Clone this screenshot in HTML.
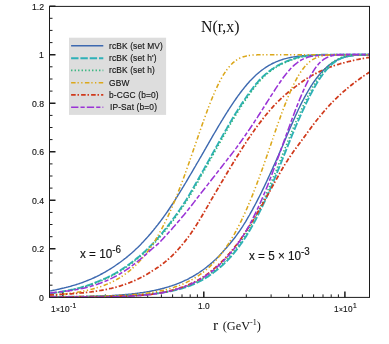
<!DOCTYPE html>
<html><head><meta charset="utf-8"><title>N(r,x)</title>
<style>
html,body{margin:0;padding:0;background:#fff;}
body{width:389px;height:344px;position:relative;overflow:hidden;font-family:"Liberation Sans",sans-serif;color:#111;}
.t{position:absolute;white-space:nowrap;will-change:transform;font-family:"Liberation Sans",sans-serif;-webkit-text-stroke:0.15px #222;}
.s{position:relative;}
</style></head><body>
<svg width="389" height="344" viewBox="0 0 389 344" style="position:absolute;left:0;top:0">
<defs><clipPath id="c"><rect x="49.5" y="6.4" width="320.0" height="291.0"/></clipPath></defs>
<rect x="69" y="37.7" width="97.1" height="77.2" fill="#dddddd"/>
<path d="M49.5,285.2 h3 M49.5,273.0 h3 M49.5,260.9 h3 M49.5,236.7 h3 M49.5,224.5 h3 M49.5,212.4 h3 M49.5,188.1 h3 M49.5,176.0 h3 M49.5,163.9 h3 M49.5,139.6 h3 M49.5,127.5 h3 M49.5,115.4 h3 M49.5,91.1 h3 M49.5,79.0 h3 M49.5,66.8 h3 M49.5,42.6 h3 M49.5,30.4 h3 M49.5,18.3 h3 M56.4,297.4 v-3 M105.3,297.4 v-3 M130.1,297.4 v-3 M147.7,297.4 v-3 M161.4,297.4 v-3 M172.6,297.4 v-3 M182.0,297.4 v-3 M190.2,297.4 v-3 M197.4,297.4 v-3 M246.3,297.4 v-3 M271.1,297.4 v-3 M288.7,297.4 v-3 M302.4,297.4 v-3 M313.6,297.4 v-3 M323.0,297.4 v-3 M331.2,297.4 v-3 M338.4,297.4 v-3" stroke="#1c1c1c" fill="none" stroke-width="1"/>
<path d="M49.5,297.3 h6 M49.5,248.8 h6 M49.5,200.3 h6 M49.5,151.7 h6 M49.5,103.2 h6 M49.5,54.7 h6 M49.5,6.2 h6 M62.8,297.4 v-6 M203.8,297.4 v-6 M344.9,297.4 v-6" stroke="#1c1c1c" fill="none" stroke-width="1.5"/>
<g clip-path="url(#c)" fill="none" stroke-linejoin="round">
<path d="M49.5,291.1 L50.5,290.9 L51.5,290.7 L52.5,290.5 L53.5,290.3 L54.5,290.1 L55.5,289.9 L56.5,289.7 L57.5,289.4 L58.5,289.2 L59.5,289.0 L60.5,288.7 L61.5,288.5 L62.5,288.3 L63.5,288.1 L64.5,287.8 L65.5,287.6 L66.5,287.3 L67.5,287.1 L68.5,286.8 L69.5,286.6 L70.5,286.3 L71.5,286.0 L72.5,285.7 L73.5,285.4 L74.5,285.1 L75.5,284.8 L76.5,284.5 L77.5,284.2 L78.5,283.9 L79.5,283.5 L80.5,283.2 L81.5,282.8 L82.5,282.5 L83.5,282.1 L84.5,281.7 L85.5,281.3 L86.5,280.9 L87.5,280.5 L88.5,280.1 L89.5,279.7 L90.5,279.3 L91.5,278.9 L92.5,278.4 L93.5,278.0 L94.5,277.5 L95.5,277.0 L96.5,276.6 L97.5,276.1 L98.5,275.6 L99.5,275.1 L100.5,274.5 L101.5,274.0 L102.5,273.5 L103.5,272.9 L104.5,272.4 L105.5,271.8 L106.5,271.2 L107.5,270.6 L108.5,270.0 L109.5,269.4 L110.5,268.8 L111.5,268.2 L112.5,267.5 L113.5,266.9 L114.5,266.2 L115.5,265.5 L116.5,264.8 L117.5,264.1 L118.5,263.4 L119.5,262.7 L120.5,262.0 L121.5,261.2 L122.5,260.5 L123.5,259.7 L124.5,258.9 L125.5,258.2 L126.5,257.4 L127.5,256.6 L128.5,255.7 L129.5,254.9 L130.5,254.0 L131.5,253.2 L132.5,252.3 L133.5,251.4 L134.5,250.5 L135.5,249.6 L136.5,248.6 L137.5,247.7 L138.5,246.7 L139.5,245.7 L140.5,244.7 L141.5,243.6 L142.5,242.6 L143.5,241.5 L144.5,240.4 L145.5,239.3 L146.5,238.2 L147.5,237.1 L148.5,236.0 L149.5,234.8 L150.5,233.7 L151.5,232.5 L152.5,231.3 L153.5,230.1 L154.5,228.8 L155.5,227.6 L156.5,226.3 L157.5,225.1 L158.5,223.8 L159.5,222.5 L160.5,221.2 L161.5,219.8 L162.5,218.5 L163.5,217.1 L164.5,215.7 L165.5,214.3 L166.5,212.9 L167.5,211.5 L168.5,210.0 L169.5,208.5 L170.5,207.0 L171.5,205.5 L172.5,204.0 L173.5,202.4 L174.5,200.9 L175.5,199.3 L176.5,197.7 L177.5,196.1 L178.5,194.5 L179.5,192.8 L180.5,191.2 L181.5,189.6 L182.5,187.9 L183.5,186.3 L184.5,184.6 L185.5,183.0 L186.5,181.3 L187.5,179.6 L188.5,177.9 L189.5,176.2 L190.5,174.5 L191.5,172.8 L192.5,171.1 L193.5,169.4 L194.5,167.7 L195.5,166.0 L196.5,164.2 L197.5,162.5 L198.5,160.8 L199.5,159.0 L200.5,157.3 L201.5,155.6 L202.5,153.8 L203.5,152.1 L204.5,150.3 L205.5,148.6 L206.5,146.8 L207.5,145.1 L208.5,143.4 L209.5,141.6 L210.5,139.9 L211.5,138.2 L212.5,136.4 L213.5,134.7 L214.5,133.0 L215.5,131.3 L216.5,129.6 L217.5,127.9 L218.5,126.2 L219.5,124.5 L220.5,122.9 L221.5,121.2 L222.5,119.6 L223.5,117.9 L224.5,116.3 L225.5,114.7 L226.5,113.1 L227.5,111.5 L228.5,110.0 L229.5,108.4 L230.5,106.9 L231.5,105.4 L232.5,103.9 L233.5,102.4 L234.5,100.9 L235.5,99.5 L236.5,98.0 L237.5,96.6 L238.5,95.2 L239.5,93.9 L240.5,92.5 L241.5,91.2 L242.5,89.9 L243.5,88.7 L244.5,87.4 L245.5,86.2 L246.5,85.0 L247.5,83.8 L248.5,82.7 L249.5,81.5 L250.5,80.4 L251.5,79.4 L252.5,78.4 L253.5,77.4 L254.5,76.4 L255.5,75.5 L256.5,74.6 L257.5,73.7 L258.5,72.9 L259.5,72.0 L260.5,71.2 L261.5,70.4 L262.5,69.7 L263.5,69.0 L264.5,68.3 L265.5,67.6 L266.5,66.9 L267.5,66.3 L268.5,65.7 L269.5,65.1 L270.5,64.6 L271.5,64.0 L272.5,63.5 L273.5,63.0 L274.5,62.6 L275.5,62.1 L276.5,61.7 L277.5,61.3 L278.5,60.9 L279.5,60.5 L280.5,60.2 L281.5,59.8 L282.5,59.5 L283.5,59.2 L284.5,58.9 L285.5,58.6 L286.5,58.4 L287.5,58.1 L288.5,57.9 L289.5,57.7 L290.5,57.5 L291.5,57.3 L292.5,57.1 L293.5,56.9 L294.5,56.8 L295.5,56.6 L296.5,56.5 L297.5,56.3 L298.5,56.2 L299.5,56.1 L300.5,56.0 L301.5,55.9 L302.5,55.8 L303.5,55.7 L304.5,55.6 L305.5,55.6 L306.5,55.5 L307.5,55.4 L308.5,55.4 L309.5,55.3 L310.5,55.2 L311.5,55.2 L312.5,55.1 L313.5,55.1 L314.5,55.1 L315.5,55.0 L316.5,55.0 L317.5,55.0 L318.5,54.9 L319.5,54.9 L320.5,54.9 L321.5,54.9 L322.5,54.8 L323.5,54.8 L324.5,54.8 L325.5,54.8 L326.5,54.8 L327.5,54.8 L328.5,54.8 L329.5,54.7 L330.5,54.7 L331.5,54.7 L332.5,54.7 L333.5,54.7 L334.5,54.7 L335.5,54.7 L336.5,54.7 L337.5,54.7 L338.5,54.7 L339.5,54.7 L340.5,54.7 L341.5,54.7 L342.5,54.7 L343.5,54.7 L344.5,54.6 L345.5,54.6 L346.5,54.6 L347.5,54.6 L348.5,54.6 L349.5,54.6 L350.5,54.6 L351.5,54.6 L352.5,54.6 L353.5,54.6 L354.5,54.6 L355.5,54.6 L356.5,54.6 L357.5,54.6 L358.5,54.6 L359.5,54.6 L360.5,54.6 L361.5,54.6 L362.5,54.6 L363.5,54.6 L364.5,54.6 L365.5,54.6 L366.5,54.6 L367.5,54.6 L368.5,54.6 L369.5,54.6" stroke="#3d69b0" stroke-width="1.4"/>
<path d="M49.5,293.5 L50.5,293.4 L51.5,293.2 L52.5,293.1 L53.5,292.9 L54.5,292.8 L55.5,292.6 L56.5,292.5 L57.5,292.3 L58.5,292.1 L59.5,291.9 L60.5,291.8 L61.5,291.6 L62.5,291.5 L63.5,291.3 L64.5,291.1 L65.5,291.0 L66.5,290.8 L67.5,290.6 L68.5,290.4 L69.5,290.2 L70.5,290.0 L71.5,289.8 L72.5,289.6 L73.5,289.4 L74.5,289.1 L75.5,288.9 L76.5,288.6 L77.5,288.4 L78.5,288.1 L79.5,287.9 L80.5,287.6 L81.5,287.3 L82.5,287.0 L83.5,286.7 L84.5,286.4 L85.5,286.1 L86.5,285.8 L87.5,285.5 L88.5,285.1 L89.5,284.8 L90.5,284.4 L91.5,284.1 L92.5,283.7 L93.5,283.3 L94.5,282.9 L95.5,282.5 L96.5,282.1 L97.5,281.7 L98.5,281.3 L99.5,280.9 L100.5,280.5 L101.5,280.1 L102.5,279.6 L103.5,279.2 L104.5,278.7 L105.5,278.3 L106.5,277.8 L107.5,277.4 L108.5,276.9 L109.5,276.4 L110.5,275.9 L111.5,275.4 L112.5,274.9 L113.5,274.3 L114.5,273.8 L115.5,273.2 L116.5,272.6 L117.5,272.0 L118.5,271.4 L119.5,270.8 L120.5,270.2 L121.5,269.5 L122.5,268.9 L123.5,268.2 L124.5,267.5 L125.5,266.9 L126.5,266.2 L127.5,265.5 L128.5,264.7 L129.5,264.0 L130.5,263.3 L131.5,262.5 L132.5,261.8 L133.5,261.0 L134.5,260.2 L135.5,259.4 L136.5,258.6 L137.5,257.8 L138.5,257.0 L139.5,256.2 L140.5,255.3 L141.5,254.4 L142.5,253.6 L143.5,252.7 L144.5,251.8 L145.5,250.8 L146.5,249.9 L147.5,248.9 L148.5,247.9 L149.5,246.9 L150.5,245.9 L151.5,244.9 L152.5,243.8 L153.5,242.8 L154.5,241.7 L155.5,240.6 L156.5,239.5 L157.5,238.4 L158.5,237.3 L159.5,236.1 L160.5,234.9 L161.5,233.8 L162.5,232.6 L163.5,231.4 L164.5,230.1 L165.5,228.9 L166.5,227.6 L167.5,226.4 L168.5,225.1 L169.5,223.8 L170.5,222.5 L171.5,221.1 L172.5,219.8 L173.5,218.4 L174.5,217.1 L175.5,215.7 L176.5,214.3 L177.5,212.9 L178.5,211.4 L179.5,210.0 L180.5,208.5 L181.5,207.0 L182.5,205.6 L183.5,204.1 L184.5,202.5 L185.5,201.0 L186.5,199.4 L187.5,197.8 L188.5,196.2 L189.5,194.5 L190.5,192.8 L191.5,191.1 L192.5,189.3 L193.5,187.6 L194.5,185.8 L195.5,184.0 L196.5,182.3 L197.5,180.5 L198.5,178.7 L199.5,176.9 L200.5,175.2 L201.5,173.4 L202.5,171.6 L203.5,169.9 L204.5,168.1 L205.5,166.3 L206.5,164.5 L207.5,162.7 L208.5,160.9 L209.5,159.1 L210.5,157.3 L211.5,155.5 L212.5,153.7 L213.5,151.9 L214.5,150.1 L215.5,148.3 L216.5,146.5 L217.5,144.8 L218.5,143.0 L219.5,141.2 L220.5,139.4 L221.5,137.7 L222.5,135.9 L223.5,134.1 L224.5,132.4 L225.5,130.6 L226.5,128.9 L227.5,127.1 L228.5,125.4 L229.5,123.7 L230.5,122.0 L231.5,120.3 L232.5,118.6 L233.5,116.9 L234.5,115.2 L235.5,113.6 L236.5,112.0 L237.5,110.4 L238.5,108.8 L239.5,107.2 L240.5,105.7 L241.5,104.1 L242.5,102.6 L243.5,101.2 L244.5,99.7 L245.5,98.2 L246.5,96.8 L247.5,95.4 L248.5,94.0 L249.5,92.6 L250.5,91.2 L251.5,89.9 L252.5,88.5 L253.5,87.2 L254.5,85.9 L255.5,84.7 L256.5,83.4 L257.5,82.3 L258.5,81.1 L259.5,80.0 L260.5,79.0 L261.5,78.0 L262.5,77.0 L263.5,76.0 L264.5,75.1 L265.5,74.3 L266.5,73.4 L267.5,72.6 L268.5,71.8 L269.5,71.0 L270.5,70.3 L271.5,69.6 L272.5,68.8 L273.5,68.2 L274.5,67.5 L275.5,66.9 L276.5,66.3 L277.5,65.7 L278.5,65.2 L279.5,64.6 L280.5,64.1 L281.5,63.6 L282.5,63.2 L283.5,62.7 L284.5,62.3 L285.5,61.9 L286.5,61.4 L287.5,61.0 L288.5,60.6 L289.5,60.2 L290.5,59.9 L291.5,59.5 L292.5,59.1 L293.5,58.8 L294.5,58.5 L295.5,58.2 L296.5,57.9 L297.5,57.6 L298.5,57.4 L299.5,57.1 L300.5,56.9 L301.5,56.7 L302.5,56.6 L303.5,56.4 L304.5,56.2 L305.5,56.1 L306.5,55.9 L307.5,55.8 L308.5,55.7 L309.5,55.6 L310.5,55.5 L311.5,55.4 L312.5,55.3 L313.5,55.2 L314.5,55.1 L315.5,55.1 L316.5,55.0 L317.5,55.0 L318.5,54.9 L319.5,54.9 L320.5,54.9 L321.5,54.8 L322.5,54.8 L323.5,54.8 L324.5,54.8 L325.5,54.8 L326.5,54.7 L327.5,54.7 L328.5,54.7 L329.5,54.7 L330.5,54.7 L331.5,54.7 L332.5,54.7 L333.5,54.7 L334.5,54.7 L335.5,54.6 L336.5,54.6 L337.5,54.6 L338.5,54.6 L339.5,54.6 L340.5,54.6 L341.5,54.6 L342.5,54.6 L343.5,54.6 L344.5,54.6 L345.5,54.6 L346.5,54.6 L347.5,54.6 L348.5,54.6 L349.5,54.6 L350.5,54.6 L351.5,54.6 L352.5,54.6 L353.5,54.6 L354.5,54.6 L355.5,54.6 L356.5,54.6 L357.5,54.6 L358.5,54.6 L359.5,54.6 L360.5,54.6 L361.5,54.6 L362.5,54.6 L363.5,54.6 L364.5,54.6 L365.5,54.6 L366.5,54.6 L367.5,54.6 L368.5,54.6 L369.5,54.6" stroke="#2fb1b8" stroke-width="1.9" stroke-dasharray="7.4 1.9"/>
<path d="M50.7,293.5 L51.7,293.4 L52.7,293.2 L53.7,293.1 L54.7,292.9 L55.7,292.8 L56.7,292.6 L57.7,292.5 L58.7,292.3 L59.7,292.1 L60.7,291.9 L61.7,291.8 L62.7,291.6 L63.7,291.5 L64.7,291.3 L65.7,291.1 L66.7,291.0 L67.7,290.8 L68.7,290.6 L69.7,290.4 L70.7,290.2 L71.7,290.0 L72.7,289.8 L73.7,289.6 L74.7,289.4 L75.7,289.1 L76.7,288.9 L77.7,288.6 L78.7,288.4 L79.7,288.1 L80.7,287.9 L81.7,287.6 L82.7,287.3 L83.7,287.0 L84.7,286.7 L85.7,286.4 L86.7,286.1 L87.7,285.8 L88.7,285.5 L89.7,285.1 L90.7,284.8 L91.7,284.4 L92.7,284.1 L93.7,283.7 L94.7,283.3 L95.7,282.9 L96.7,282.5 L97.7,282.1 L98.7,281.7 L99.7,281.3 L100.7,280.9 L101.7,280.5 L102.7,280.1 L103.7,279.6 L104.7,279.2 L105.7,278.7 L106.7,278.3 L107.7,277.8 L108.7,277.4 L109.7,276.9 L110.7,276.4 L111.7,275.9 L112.7,275.4 L113.7,274.9 L114.7,274.3 L115.7,273.8 L116.7,273.2 L117.7,272.6 L118.7,272.0 L119.7,271.4 L120.7,270.8 L121.7,270.2 L122.7,269.5 L123.7,268.9 L124.7,268.2 L125.7,267.5 L126.7,266.9 L127.7,266.2 L128.7,265.5 L129.7,264.7 L130.7,264.0 L131.7,263.3 L132.7,262.5 L133.7,261.8 L134.7,261.0 L135.7,260.2 L136.7,259.4 L137.7,258.6 L138.7,257.8 L139.7,257.0 L140.7,256.2 L141.7,255.3 L142.7,254.4 L143.7,253.6 L144.7,252.7 L145.7,251.8 L146.7,250.8 L147.7,249.9 L148.7,248.9 L149.7,247.9 L150.7,246.9 L151.7,245.9 L152.7,244.9 L153.7,243.8 L154.7,242.8 L155.7,241.7 L156.7,240.6 L157.7,239.5 L158.7,238.4 L159.7,237.3 L160.7,236.1 L161.7,234.9 L162.7,233.8 L163.7,232.6 L164.7,231.4 L165.7,230.1 L166.7,228.9 L167.7,227.6 L168.7,226.4 L169.7,225.1 L170.7,223.8 L171.7,222.5 L172.7,221.1 L173.7,219.8 L174.7,218.4 L175.7,217.1 L176.7,215.7 L177.7,214.3 L178.7,212.9 L179.7,211.4 L180.7,210.0 L181.7,208.5 L182.7,207.0 L183.7,205.6 L184.7,204.1 L185.7,202.5 L186.7,201.0 L187.7,199.4 L188.7,197.8 L189.7,196.2 L190.7,194.5 L191.7,192.8 L192.7,191.1 L193.7,189.3 L194.7,187.6 L195.7,185.8 L196.7,184.0 L197.7,182.3 L198.7,180.5 L199.7,178.7 L200.7,176.9 L201.7,175.2 L202.7,173.4 L203.7,171.6 L204.7,169.9 L205.7,168.1 L206.7,166.3 L207.7,164.5 L208.7,162.7 L209.7,160.9 L210.7,159.1 L211.7,157.3 L212.7,155.5 L213.7,153.7 L214.7,151.9 L215.7,150.1 L216.7,148.3 L217.7,146.5 L218.7,144.8 L219.7,143.0 L220.7,141.2 L221.7,139.4 L222.7,137.7 L223.7,135.9 L224.7,134.1 L225.7,132.4 L226.7,130.6 L227.7,128.9 L228.7,127.1 L229.7,125.4 L230.7,123.7 L231.7,122.0 L232.7,120.3 L233.7,118.6 L234.7,116.9 L235.7,115.2 L236.7,113.6 L237.7,112.0 L238.7,110.4 L239.7,108.8 L240.7,107.2 L241.7,105.7 L242.7,104.1 L243.7,102.6 L244.7,101.2 L245.7,99.7 L246.7,98.2 L247.7,96.8 L248.7,95.4 L249.7,94.0 L250.7,92.6 L251.7,91.2 L252.7,89.9 L253.7,88.5 L254.7,87.2 L255.7,85.9 L256.7,84.7 L257.7,83.4 L258.7,82.3 L259.7,81.1 L260.7,80.0 L261.7,79.0 L262.7,78.0 L263.7,77.0 L264.7,76.0 L265.7,75.1 L266.7,74.3 L267.7,73.4 L268.7,72.6 L269.7,71.8 L270.7,71.0 L271.7,70.3 L272.7,69.6 L273.7,68.8 L274.7,68.2 L275.7,67.5 L276.7,66.9 L277.7,66.3 L278.7,65.7 L279.7,65.2 L280.7,64.6 L281.7,64.1 L282.7,63.6 L283.7,63.2 L284.7,62.7 L285.7,62.3 L286.7,61.9 L287.7,61.4 L288.7,61.0 L289.7,60.6 L290.7,60.2 L291.7,59.9 L292.7,59.5 L293.7,59.1 L294.7,58.8 L295.7,58.5 L296.7,58.2 L297.7,57.9 L298.7,57.6 L299.7,57.4 L300.7,57.1 L301.7,56.9 L302.7,56.7 L303.7,56.6 L304.7,56.4 L305.7,56.2 L306.7,56.1 L307.7,55.9 L308.7,55.8 L309.7,55.7 L310.7,55.6 L311.7,55.5 L312.7,55.4 L313.7,55.3 L314.7,55.2 L315.7,55.1 L316.7,55.1 L317.7,55.0 L318.7,55.0 L319.7,54.9 L320.7,54.9 L321.7,54.9 L322.7,54.8 L323.7,54.8 L324.7,54.8 L325.7,54.8 L326.7,54.8 L327.7,54.7 L328.7,54.7 L329.7,54.7 L330.7,54.7 L331.7,54.7 L332.7,54.7 L333.7,54.7 L334.7,54.7 L335.7,54.7 L336.7,54.6 L337.7,54.6 L338.7,54.6 L339.7,54.6 L340.7,54.6 L341.7,54.6 L342.7,54.6 L343.7,54.6 L344.7,54.6 L345.7,54.6 L346.7,54.6 L347.7,54.6 L348.7,54.6 L349.7,54.6 L350.7,54.6 L351.7,54.6 L352.7,54.6 L353.7,54.6 L354.7,54.6 L355.7,54.6 L356.7,54.6 L357.7,54.6 L358.7,54.6 L359.7,54.6 L360.7,54.6 L361.7,54.6 L362.7,54.6 L363.7,54.6 L364.7,54.6 L365.7,54.6 L366.7,54.6 L367.7,54.6 L368.7,54.6 L369.7,54.6 L370.7,54.6" stroke="#2fb37a" stroke-width="1.6" stroke-dasharray="1.3 2.2"/>
<path d="M49.5,295.2 L50.5,295.2 L51.5,295.1 L52.5,295.0 L53.5,295.0 L54.5,294.9 L55.5,294.8 L56.5,294.7 L57.5,294.6 L58.5,294.6 L59.5,294.5 L60.5,294.4 L61.5,294.3 L62.5,294.2 L63.5,294.1 L64.5,294.0 L65.5,293.9 L66.5,293.7 L67.5,293.6 L68.5,293.5 L69.5,293.4 L70.5,293.2 L71.5,293.1 L72.5,293.0 L73.5,292.8 L74.5,292.7 L75.5,292.5 L76.5,292.4 L77.5,292.2 L78.5,292.0 L79.5,291.9 L80.5,291.7 L81.5,291.5 L82.5,291.3 L83.5,291.1 L84.5,290.9 L85.5,290.7 L86.5,290.5 L87.5,290.3 L88.5,290.1 L89.5,289.8 L90.5,289.6 L91.5,289.3 L92.5,289.1 L93.5,288.8 L94.5,288.5 L95.5,288.2 L96.5,287.9 L97.5,287.6 L98.5,287.3 L99.5,287.0 L100.5,286.7 L101.5,286.3 L102.5,285.9 L103.5,285.6 L104.5,285.2 L105.5,284.8 L106.5,284.4 L107.5,284.0 L108.5,283.6 L109.5,283.1 L110.5,282.7 L111.5,282.2 L112.5,281.7 L113.5,281.2 L114.5,280.7 L115.5,280.2 L116.5,279.6 L117.5,279.0 L118.5,278.5 L119.5,277.9 L120.5,277.2 L121.5,276.6 L122.5,276.0 L123.5,275.3 L124.5,274.6 L125.5,273.9 L126.5,273.1 L127.5,272.4 L128.5,271.6 L129.5,270.8 L130.5,270.0 L131.5,269.1 L132.5,268.2 L133.5,267.3 L134.5,266.4 L135.5,265.4 L136.5,264.5 L137.5,263.4 L138.5,262.4 L139.5,261.3 L140.5,260.2 L141.5,259.1 L142.5,258.0 L143.5,256.8 L144.5,255.5 L145.5,254.3 L146.5,253.0 L147.5,251.7 L148.5,250.3 L149.5,248.9 L150.5,247.5 L151.5,246.0 L152.5,244.5 L153.5,243.0 L154.5,241.4 L155.5,239.8 L156.5,238.1 L157.5,236.4 L158.5,234.7 L159.5,232.9 L160.5,231.1 L161.5,229.3 L162.5,227.4 L163.5,225.4 L164.5,223.4 L165.5,221.4 L166.5,219.4 L167.5,217.3 L168.5,215.1 L169.5,212.9 L170.5,210.7 L171.5,208.4 L172.5,206.1 L173.5,203.8 L174.5,201.4 L175.5,198.9 L176.5,196.5 L177.5,194.0 L178.5,191.4 L179.5,188.8 L180.5,186.2 L181.5,183.6 L182.5,180.9 L183.5,178.2 L184.5,175.5 L185.5,172.7 L186.5,169.9 L187.5,167.1 L188.5,164.3 L189.5,161.4 L190.5,158.5 L191.5,155.6 L192.5,152.7 L193.5,149.8 L194.5,146.9 L195.5,144.0 L196.5,141.1 L197.5,138.2 L198.5,135.3 L199.5,132.4 L200.5,129.5 L201.5,126.6 L202.5,123.8 L203.5,121.0 L204.5,118.2 L205.5,115.4 L206.5,112.7 L207.5,110.0 L208.5,107.3 L209.5,104.7 L210.5,102.2 L211.5,99.7 L212.5,97.2 L213.5,94.9 L214.5,92.5 L215.5,90.3 L216.5,88.1 L217.5,85.9 L218.5,83.9 L219.5,81.9 L220.5,80.0 L221.5,78.2 L222.5,76.4 L223.5,74.7 L224.5,73.1 L225.5,71.6 L226.5,70.2 L227.5,68.9 L228.5,67.6 L229.5,66.4 L230.5,65.3 L231.5,64.2 L232.5,63.2 L233.5,62.3 L234.5,61.5 L235.5,60.8 L236.5,60.1 L237.5,59.4 L238.5,58.8 L239.5,58.3 L240.5,57.8 L241.5,57.4 L242.5,57.0 L243.5,56.7 L244.5,56.4 L245.5,56.2 L246.5,55.9 L247.5,55.7 L248.5,55.6 L249.5,55.4 L250.5,55.3 L251.5,55.2 L252.5,55.1 L253.5,55.0 L254.5,55.0 L255.5,54.9 L256.5,54.9 L257.5,54.8 L258.5,54.8 L259.5,54.8 L260.5,54.8 L261.5,54.7 L262.5,54.7 L263.5,54.7 L264.5,54.7 L265.5,54.7 L266.5,54.7 L267.5,54.7 L268.5,54.7 L269.5,54.7 L270.5,54.7 L271.5,54.7 L272.5,54.7 L273.5,54.7 L274.5,54.7 L275.5,54.7 L276.5,54.7 L277.5,54.7 L278.5,54.7 L279.5,54.7 L280.5,54.7 L281.5,54.7 L282.5,54.7 L283.5,54.7 L284.5,54.7 L285.5,54.7 L286.5,54.7 L287.5,54.7 L288.5,54.7 L289.5,54.7 L290.5,54.7 L291.5,54.7 L292.5,54.7 L293.5,54.7 L294.5,54.7 L295.5,54.7 L296.5,54.7 L297.5,54.7 L298.5,54.7 L299.5,54.7 L300.5,54.7 L301.5,54.7 L302.5,54.7 L303.5,54.7 L304.5,54.7 L305.5,54.7 L306.5,54.7 L307.5,54.7 L308.5,54.7 L309.5,54.7 L310.5,54.7 L311.5,54.7 L312.5,54.7 L313.5,54.7 L314.5,54.7 L315.5,54.7 L316.5,54.7 L317.5,54.7 L318.5,54.7 L319.5,54.7 L320.5,54.7 L321.5,54.7 L322.5,54.7 L323.5,54.7 L324.5,54.7 L325.5,54.7 L326.5,54.7 L327.5,54.7 L328.5,54.7 L329.5,54.7 L330.5,54.7 L331.5,54.7 L332.5,54.7 L333.5,54.7 L334.5,54.7 L335.5,54.7 L336.5,54.7 L337.5,54.7 L338.5,54.7 L339.5,54.7 L340.5,54.7 L341.5,54.7 L342.5,54.7 L343.5,54.7 L344.5,54.7 L345.5,54.7 L346.5,54.7 L347.5,54.7 L348.5,54.7 L349.5,54.7 L350.5,54.7 L351.5,54.7 L352.5,54.7 L353.5,54.7 L354.5,54.7 L355.5,54.7 L356.5,54.7 L357.5,54.7 L358.5,54.7 L359.5,54.7 L360.5,54.7 L361.5,54.7 L362.5,54.7 L363.5,54.7 L364.5,54.7 L365.5,54.7 L366.5,54.7 L367.5,54.7 L368.5,54.7 L369.5,54.7" stroke="#dba71a" stroke-width="1.55" stroke-dasharray="4.5 1.9 1.3 2.4 1.3 2.4"/>
<path d="M49.5,294.8 L50.5,294.8 L51.5,294.8 L52.5,294.7 L53.5,294.7 L54.5,294.6 L55.5,294.6 L56.5,294.6 L57.5,294.5 L58.5,294.5 L59.5,294.4 L60.5,294.4 L61.5,294.3 L62.5,294.3 L63.5,294.2 L64.5,294.2 L65.5,294.1 L66.5,294.1 L67.5,294.0 L68.5,294.0 L69.5,293.9 L70.5,293.8 L71.5,293.8 L72.5,293.7 L73.5,293.6 L74.5,293.5 L75.5,293.5 L76.5,293.4 L77.5,293.3 L78.5,293.2 L79.5,293.1 L80.5,293.0 L81.5,292.9 L82.5,292.9 L83.5,292.8 L84.5,292.7 L85.5,292.5 L86.5,292.4 L87.5,292.3 L88.5,292.2 L89.5,292.1 L90.5,292.0 L91.5,291.8 L92.5,291.7 L93.5,291.6 L94.5,291.4 L95.5,291.3 L96.5,291.1 L97.5,291.0 L98.5,290.8 L99.5,290.7 L100.5,290.5 L101.5,290.3 L102.5,290.1 L103.5,290.0 L104.5,289.8 L105.5,289.6 L106.5,289.4 L107.5,289.2 L108.5,289.0 L109.5,288.7 L110.5,288.5 L111.5,288.3 L112.5,288.0 L113.5,287.8 L114.5,287.5 L115.5,287.3 L116.5,287.0 L117.5,286.7 L118.5,286.5 L119.5,286.2 L120.5,285.9 L121.5,285.5 L122.5,285.2 L123.5,284.9 L124.5,284.6 L125.5,284.2 L126.5,283.9 L127.5,283.5 L128.5,283.1 L129.5,282.7 L130.5,282.3 L131.5,281.9 L132.5,281.5 L133.5,281.1 L134.5,280.6 L135.5,280.2 L136.5,279.7 L137.5,279.3 L138.5,278.8 L139.5,278.3 L140.5,277.8 L141.5,277.3 L142.5,276.8 L143.5,276.2 L144.5,275.7 L145.5,275.1 L146.5,274.5 L147.5,273.9 L148.5,273.3 L149.5,272.7 L150.5,272.1 L151.5,271.4 L152.5,270.8 L153.5,270.2 L154.5,269.5 L155.5,268.9 L156.5,268.2 L157.5,267.5 L158.5,266.9 L159.5,266.2 L160.5,265.5 L161.5,264.8 L162.5,264.0 L163.5,263.2 L164.5,262.4 L165.5,261.6 L166.5,260.8 L167.5,259.9 L168.5,259.0 L169.5,258.1 L170.5,257.2 L171.5,256.3 L172.5,255.3 L173.5,254.3 L174.5,253.3 L175.5,252.3 L176.5,251.2 L177.5,250.1 L178.5,249.0 L179.5,247.9 L180.5,246.7 L181.5,245.5 L182.5,244.4 L183.5,243.1 L184.5,241.9 L185.5,240.6 L186.5,239.3 L187.5,238.0 L188.5,236.7 L189.5,235.3 L190.5,233.9 L191.5,232.5 L192.5,231.0 L193.5,229.6 L194.5,228.0 L195.5,226.5 L196.5,224.9 L197.5,223.3 L198.5,221.7 L199.5,220.0 L200.5,218.4 L201.5,216.7 L202.5,215.0 L203.5,213.3 L204.5,211.6 L205.5,209.9 L206.5,208.1 L207.5,206.4 L208.5,204.6 L209.5,202.9 L210.5,201.2 L211.5,199.4 L212.5,197.7 L213.5,196.0 L214.5,194.3 L215.5,192.6 L216.5,190.9 L217.5,189.2 L218.5,187.5 L219.5,185.8 L220.5,184.1 L221.5,182.4 L222.5,180.7 L223.5,179.1 L224.5,177.4 L225.5,175.7 L226.5,174.0 L227.5,172.3 L228.5,170.6 L229.5,169.0 L230.5,167.3 L231.5,165.6 L232.5,164.0 L233.5,162.3 L234.5,160.7 L235.5,159.1 L236.5,157.4 L237.5,155.8 L238.5,154.2 L239.5,152.6 L240.5,151.0 L241.5,149.4 L242.5,147.8 L243.5,146.3 L244.5,144.7 L245.5,143.2 L246.5,141.6 L247.5,140.1 L248.5,138.6 L249.5,137.2 L250.5,135.7 L251.5,134.2 L252.5,132.8 L253.5,131.4 L254.5,130.0 L255.5,128.6 L256.5,127.2 L257.5,125.9 L258.5,124.5 L259.5,123.2 L260.5,121.9 L261.5,120.6 L262.5,119.3 L263.5,118.0 L264.5,116.8 L265.5,115.5 L266.5,114.3 L267.5,113.1 L268.5,111.9 L269.5,110.7 L270.5,109.5 L271.5,108.4 L272.5,107.3 L273.5,106.2 L274.5,105.1 L275.5,104.1 L276.5,103.0 L277.5,102.0 L278.5,101.0 L279.5,100.1 L280.5,99.1 L281.5,98.2 L282.5,97.2 L283.5,96.3 L284.5,95.4 L285.5,94.6 L286.5,93.7 L287.5,92.9 L288.5,92.0 L289.5,91.2 L290.5,90.4 L291.5,89.7 L292.5,88.9 L293.5,88.2 L294.5,87.4 L295.5,86.6 L296.5,85.9 L297.5,85.1 L298.5,84.4 L299.5,83.6 L300.5,82.9 L301.5,82.2 L302.5,81.5 L303.5,80.8 L304.5,80.1 L305.5,79.4 L306.5,78.7 L307.5,78.1 L308.5,77.5 L309.5,76.9 L310.5,76.3 L311.5,75.7 L312.5,75.2 L313.5,74.6 L314.5,74.1 L315.5,73.6 L316.5,73.1 L317.5,72.6 L318.5,72.1 L319.5,71.6 L320.5,71.1 L321.5,70.7 L322.5,70.2 L323.5,69.8 L324.5,69.3 L325.5,68.9 L326.5,68.5 L327.5,68.1 L328.5,67.7 L329.5,67.3 L330.5,66.9 L331.5,66.6 L332.5,66.2 L333.5,65.9 L334.5,65.5 L335.5,65.2 L336.5,64.9 L337.5,64.6 L338.5,64.3 L339.5,64.0 L340.5,63.7 L341.5,63.4 L342.5,63.1 L343.5,62.8 L344.5,62.6 L345.5,62.3 L346.5,62.0 L347.5,61.8 L348.5,61.5 L349.5,61.3 L350.5,61.1 L351.5,60.8 L352.5,60.6 L353.5,60.4 L354.5,60.1 L355.5,59.9 L356.5,59.7 L357.5,59.5 L358.5,59.3 L359.5,59.1 L360.5,58.9 L361.5,58.7 L362.5,58.6 L363.5,58.4 L364.5,58.2 L365.5,58.0 L366.5,57.9 L367.5,57.7 L368.5,57.6 L369.5,57.4" stroke="#d03a1c" stroke-width="1.75" stroke-dasharray="4.6 1.8 1.5 2.1"/>
<path d="M49.5,292.9 L50.5,292.9 L51.5,292.8 L52.5,292.7 L53.5,292.6 L54.5,292.5 L55.5,292.3 L56.5,292.2 L57.5,292.1 L58.5,292.0 L59.5,291.9 L60.5,291.8 L61.5,291.7 L62.5,291.6 L63.5,291.5 L64.5,291.4 L65.5,291.2 L66.5,291.1 L67.5,291.0 L68.5,290.9 L69.5,290.7 L70.5,290.6 L71.5,290.5 L72.5,290.3 L73.5,290.1 L74.5,290.0 L75.5,289.8 L76.5,289.6 L77.5,289.4 L78.5,289.3 L79.5,289.1 L80.5,288.8 L81.5,288.6 L82.5,288.4 L83.5,288.2 L84.5,288.0 L85.5,287.7 L86.5,287.5 L87.5,287.2 L88.5,286.9 L89.5,286.7 L90.5,286.4 L91.5,286.1 L92.5,285.8 L93.5,285.5 L94.5,285.2 L95.5,284.8 L96.5,284.5 L97.5,284.2 L98.5,283.8 L99.5,283.5 L100.5,283.1 L101.5,282.7 L102.5,282.3 L103.5,281.9 L104.5,281.5 L105.5,281.1 L106.5,280.7 L107.5,280.3 L108.5,279.8 L109.5,279.4 L110.5,278.9 L111.5,278.4 L112.5,277.9 L113.5,277.4 L114.5,276.9 L115.5,276.4 L116.5,275.8 L117.5,275.3 L118.5,274.7 L119.5,274.1 L120.5,273.5 L121.5,272.9 L122.5,272.3 L123.5,271.7 L124.5,271.0 L125.5,270.4 L126.5,269.7 L127.5,269.0 L128.5,268.3 L129.5,267.6 L130.5,266.9 L131.5,266.2 L132.5,265.4 L133.5,264.7 L134.5,263.9 L135.5,263.1 L136.5,262.3 L137.5,261.5 L138.5,260.7 L139.5,259.9 L140.5,259.1 L141.5,258.2 L142.5,257.4 L143.5,256.5 L144.5,255.7 L145.5,254.8 L146.5,253.9 L147.5,253.0 L148.5,252.1 L149.5,251.1 L150.5,250.2 L151.5,249.3 L152.5,248.5 L153.5,247.7 L154.5,246.8 L155.5,246.0 L156.5,245.2 L157.5,244.3 L158.5,243.4 L159.5,242.4 L160.5,241.4 L161.5,240.3 L162.5,239.3 L163.5,238.2 L164.5,237.1 L165.5,236.0 L166.5,234.9 L167.5,233.8 L168.5,232.7 L169.5,231.6 L170.5,230.5 L171.5,229.4 L172.5,228.2 L173.5,227.1 L174.5,226.0 L175.5,224.8 L176.5,223.7 L177.5,222.5 L178.5,221.3 L179.5,220.2 L180.5,219.0 L181.5,217.8 L182.5,216.6 L183.5,215.4 L184.5,214.3 L185.5,213.1 L186.5,211.8 L187.5,210.6 L188.5,209.3 L189.5,208.1 L190.5,206.8 L191.5,205.5 L192.5,204.2 L193.5,202.9 L194.5,201.6 L195.5,200.2 L196.5,198.9 L197.5,197.6 L198.5,196.4 L199.5,195.1 L200.5,193.8 L201.5,192.5 L202.5,191.3 L203.5,190.0 L204.5,188.7 L205.5,187.5 L206.5,186.2 L207.5,184.9 L208.5,183.6 L209.5,182.4 L210.5,181.1 L211.5,179.8 L212.5,178.5 L213.5,177.2 L214.5,176.0 L215.5,174.7 L216.5,173.4 L217.5,172.1 L218.5,170.8 L219.5,169.5 L220.5,168.3 L221.5,167.0 L222.5,165.7 L223.5,164.4 L224.5,163.1 L225.5,161.9 L226.5,160.6 L227.5,159.3 L228.5,158.1 L229.5,156.8 L230.5,155.5 L231.5,154.2 L232.5,152.9 L233.5,151.6 L234.5,150.3 L235.5,148.9 L236.5,147.6 L237.5,146.2 L238.5,144.9 L239.5,143.5 L240.5,142.1 L241.5,140.7 L242.5,139.3 L243.5,137.9 L244.5,136.4 L245.5,135.0 L246.5,133.5 L247.5,132.1 L248.5,130.6 L249.5,129.2 L250.5,127.7 L251.5,126.2 L252.5,124.7 L253.5,123.2 L254.5,121.7 L255.5,120.1 L256.5,118.6 L257.5,117.1 L258.5,115.5 L259.5,114.0 L260.5,112.4 L261.5,110.9 L262.5,109.3 L263.5,107.7 L264.5,106.2 L265.5,104.6 L266.5,103.0 L267.5,101.4 L268.5,99.9 L269.5,98.3 L270.5,96.7 L271.5,95.1 L272.5,93.6 L273.5,92.0 L274.5,90.5 L275.5,88.9 L276.5,87.4 L277.5,85.9 L278.5,84.4 L279.5,83.0 L280.5,81.5 L281.5,80.1 L282.5,78.7 L283.5,77.3 L284.5,76.0 L285.5,74.7 L286.5,73.4 L287.5,72.2 L288.5,71.1 L289.5,69.9 L290.5,68.8 L291.5,67.8 L292.5,66.8 L293.5,65.8 L294.5,64.9 L295.5,64.1 L296.5,63.3 L297.5,62.5 L298.5,61.8 L299.5,61.1 L300.5,60.5 L301.5,59.9 L302.5,59.4 L303.5,58.9 L304.5,58.5 L305.5,58.0 L306.5,57.7 L307.5,57.3 L308.5,57.0 L309.5,56.8 L310.5,56.5 L311.5,56.3 L312.5,56.2 L313.5,56.0 L314.5,55.9 L315.5,55.8 L316.5,55.7 L317.5,55.6 L318.5,55.5 L319.5,55.4 L320.5,55.4 L321.5,55.3 L322.5,55.3 L323.5,55.2 L324.5,55.2 L325.5,55.1 L326.5,55.1 L327.5,55.0 L328.5,55.0 L329.5,54.9 L330.5,54.8 L331.5,54.8 L332.5,54.7 L333.5,54.7 L334.5,54.6 L335.5,54.6 L336.5,54.6 L337.5,54.6 L338.5,54.6 L339.5,54.6 L340.5,54.6 L341.5,54.6 L342.5,54.6 L343.5,54.6 L344.5,54.6 L345.5,54.6 L346.5,54.6 L347.5,54.6 L348.5,54.6 L349.5,54.6 L350.5,54.6 L351.5,54.6 L352.5,54.6 L353.5,54.6 L354.5,54.6 L355.5,54.6 L356.5,54.6 L357.5,54.6 L358.5,54.6 L359.5,54.6 L360.5,54.6 L361.5,54.6 L362.5,54.6 L363.5,54.6 L364.5,54.6 L365.5,54.6 L366.5,54.6 L367.5,54.6 L368.5,54.6 L369.5,54.6" stroke="#9a33d6" stroke-width="1.55" stroke-dasharray="7.3 2.1 4.2 2.1"/>
<path d="M49.5,297.0 L50.5,297.0 L51.5,297.0 L52.5,297.0 L53.5,297.0 L54.5,297.0 L55.5,297.0 L56.5,297.0 L57.5,296.9 L58.5,296.9 L59.5,296.9 L60.5,296.9 L61.5,296.9 L62.5,296.9 L63.5,296.9 L64.5,296.9 L65.5,296.9 L66.5,296.9 L67.5,296.9 L68.5,296.8 L69.5,296.8 L70.5,296.8 L71.5,296.8 L72.5,296.8 L73.5,296.8 L74.5,296.8 L75.5,296.7 L76.5,296.7 L77.5,296.7 L78.5,296.7 L79.5,296.7 L80.5,296.7 L81.5,296.6 L82.5,296.6 L83.5,296.6 L84.5,296.6 L85.5,296.6 L86.5,296.5 L87.5,296.5 L88.5,296.5 L89.5,296.5 L90.5,296.4 L91.5,296.4 L92.5,296.4 L93.5,296.3 L94.5,296.3 L95.5,296.3 L96.5,296.2 L97.5,296.2 L98.5,296.2 L99.5,296.1 L100.5,296.1 L101.5,296.1 L102.5,296.0 L103.5,296.0 L104.5,295.9 L105.5,295.9 L106.5,295.8 L107.5,295.8 L108.5,295.7 L109.5,295.7 L110.5,295.6 L111.5,295.6 L112.5,295.5 L113.5,295.4 L114.5,295.4 L115.5,295.3 L116.5,295.3 L117.5,295.2 L118.5,295.1 L119.5,295.0 L120.5,295.0 L121.5,294.9 L122.5,294.8 L123.5,294.7 L124.5,294.6 L125.5,294.5 L126.5,294.5 L127.5,294.4 L128.5,294.3 L129.5,294.2 L130.5,294.1 L131.5,294.0 L132.5,293.8 L133.5,293.7 L134.5,293.6 L135.5,293.5 L136.5,293.4 L137.5,293.2 L138.5,293.1 L139.5,293.0 L140.5,292.8 L141.5,292.7 L142.5,292.6 L143.5,292.4 L144.5,292.2 L145.5,292.1 L146.5,291.9 L147.5,291.7 L148.5,291.6 L149.5,291.4 L150.5,291.2 L151.5,291.0 L152.5,290.8 L153.5,290.6 L154.5,290.4 L155.5,290.2 L156.5,290.0 L157.5,289.8 L158.5,289.5 L159.5,289.3 L160.5,289.0 L161.5,288.8 L162.5,288.5 L163.5,288.3 L164.5,288.0 L165.5,287.7 L166.5,287.4 L167.5,287.1 L168.5,286.8 L169.5,286.5 L170.5,286.2 L171.5,285.9 L172.5,285.5 L173.5,285.2 L174.5,284.8 L175.5,284.5 L176.5,284.1 L177.5,283.7 L178.5,283.3 L179.5,282.9 L180.5,282.5 L181.5,282.1 L182.5,281.6 L183.5,281.2 L184.5,280.7 L185.5,280.2 L186.5,279.8 L187.5,279.3 L188.5,278.8 L189.5,278.2 L190.5,277.7 L191.5,277.2 L192.5,276.6 L193.5,276.0 L194.5,275.5 L195.5,274.8 L196.5,274.2 L197.5,273.6 L198.5,273.0 L199.5,272.3 L200.5,271.6 L201.5,270.9 L202.5,270.2 L203.5,269.5 L204.5,268.8 L205.5,268.0 L206.5,267.2 L207.5,266.4 L208.5,265.6 L209.5,264.8 L210.5,263.9 L211.5,263.1 L212.5,262.2 L213.5,261.3 L214.5,260.3 L215.5,259.4 L216.5,258.4 L217.5,257.4 L218.5,256.4 L219.5,255.4 L220.5,254.3 L221.5,253.3 L222.5,252.2 L223.5,251.0 L224.5,249.9 L225.5,248.8 L226.5,247.7 L227.5,246.5 L228.5,245.4 L229.5,244.2 L230.5,243.0 L231.5,241.8 L232.5,240.5 L233.5,239.3 L234.5,238.0 L235.5,236.7 L236.5,235.3 L237.5,233.9 L238.5,232.5 L239.5,231.1 L240.5,229.6 L241.5,228.1 L242.5,226.6 L243.5,225.0 L244.5,223.4 L245.5,221.8 L246.5,220.1 L247.5,218.4 L248.5,216.7 L249.5,215.0 L250.5,213.2 L251.5,211.4 L252.5,209.6 L253.5,207.7 L254.5,205.9 L255.5,204.0 L256.5,202.1 L257.5,200.1 L258.5,198.2 L259.5,196.2 L260.5,194.2 L261.5,192.2 L262.5,190.1 L263.5,188.1 L264.5,186.0 L265.5,183.9 L266.5,181.7 L267.5,179.6 L268.5,177.4 L269.5,175.3 L270.5,173.1 L271.5,170.9 L272.5,168.7 L273.5,166.4 L274.5,164.2 L275.5,162.0 L276.5,159.7 L277.5,157.4 L278.5,155.2 L279.5,152.9 L280.5,150.6 L281.5,148.3 L282.5,146.0 L283.5,143.7 L284.5,141.3 L285.5,139.0 L286.5,136.6 L287.5,134.2 L288.5,131.9 L289.5,129.5 L290.5,127.2 L291.5,124.9 L292.5,122.6 L293.5,120.3 L294.5,118.1 L295.5,115.8 L296.5,113.6 L297.5,111.5 L298.5,109.3 L299.5,107.2 L300.5,105.1 L301.5,103.1 L302.5,101.1 L303.5,99.3 L304.5,97.4 L305.5,95.6 L306.5,93.8 L307.5,92.0 L308.5,90.3 L309.5,88.7 L310.5,87.0 L311.5,85.5 L312.5,83.9 L313.5,82.4 L314.5,81.0 L315.5,79.6 L316.5,78.3 L317.5,77.0 L318.5,75.7 L319.5,74.5 L320.5,73.4 L321.5,72.3 L322.5,71.2 L323.5,70.1 L324.5,69.2 L325.5,68.2 L326.5,67.3 L327.5,66.4 L328.5,65.6 L329.5,64.8 L330.5,64.0 L331.5,63.3 L332.5,62.6 L333.5,62.0 L334.5,61.4 L335.5,60.8 L336.5,60.3 L337.5,59.8 L338.5,59.3 L339.5,58.9 L340.5,58.5 L341.5,58.2 L342.5,57.8 L343.5,57.5 L344.5,57.2 L345.5,57.0 L346.5,56.7 L347.5,56.5 L348.5,56.3 L349.5,56.1 L350.5,56.0 L351.5,55.8 L352.5,55.7 L353.5,55.5 L354.5,55.4 L355.5,55.3 L356.5,55.2 L357.5,55.2 L358.5,55.1 L359.5,55.0 L360.5,55.0 L361.5,54.9 L362.5,54.9 L363.5,54.8 L364.5,54.8 L365.5,54.8 L366.5,54.8 L367.5,54.7 L368.5,54.7 L369.5,54.7" stroke="#3d69b0" stroke-width="1.4"/>
<path d="M49.5,296.8 L50.5,296.8 L51.5,296.8 L52.5,296.8 L53.5,296.8 L54.5,296.8 L55.5,296.8 L56.5,296.8 L57.5,296.8 L58.5,296.8 L59.5,296.8 L60.5,296.7 L61.5,296.7 L62.5,296.7 L63.5,296.7 L64.5,296.7 L65.5,296.7 L66.5,296.7 L67.5,296.7 L68.5,296.7 L69.5,296.7 L70.5,296.7 L71.5,296.7 L72.5,296.7 L73.5,296.7 L74.5,296.7 L75.5,296.7 L76.5,296.7 L77.5,296.7 L78.5,296.7 L79.5,296.7 L80.5,296.7 L81.5,296.6 L82.5,296.6 L83.5,296.6 L84.5,296.6 L85.5,296.6 L86.5,296.6 L87.5,296.6 L88.5,296.6 L89.5,296.6 L90.5,296.6 L91.5,296.5 L92.5,296.5 L93.5,296.5 L94.5,296.5 L95.5,296.5 L96.5,296.5 L97.5,296.5 L98.5,296.5 L99.5,296.4 L100.5,296.4 L101.5,296.4 L102.5,296.4 L103.5,296.4 L104.5,296.3 L105.5,296.3 L106.5,296.3 L107.5,296.3 L108.5,296.3 L109.5,296.2 L110.5,296.2 L111.5,296.2 L112.5,296.2 L113.5,296.1 L114.5,296.1 L115.5,296.1 L116.5,296.1 L117.5,296.0 L118.5,296.0 L119.5,296.0 L120.5,295.9 L121.5,295.9 L122.5,295.9 L123.5,295.8 L124.5,295.8 L125.5,295.7 L126.5,295.7 L127.5,295.7 L128.5,295.6 L129.5,295.6 L130.5,295.5 L131.5,295.5 L132.5,295.4 L133.5,295.4 L134.5,295.3 L135.5,295.3 L136.5,295.2 L137.5,295.1 L138.5,295.1 L139.5,295.0 L140.5,294.9 L141.5,294.9 L142.5,294.8 L143.5,294.7 L144.5,294.6 L145.5,294.6 L146.5,294.5 L147.5,294.4 L148.5,294.3 L149.5,294.2 L150.5,294.1 L151.5,294.0 L152.5,293.9 L153.5,293.8 L154.5,293.7 L155.5,293.6 L156.5,293.4 L157.5,293.3 L158.5,293.2 L159.5,293.0 L160.5,292.9 L161.5,292.8 L162.5,292.6 L163.5,292.5 L164.5,292.3 L165.5,292.1 L166.5,292.0 L167.5,291.8 L168.5,291.6 L169.5,291.4 L170.5,291.2 L171.5,291.0 L172.5,290.8 L173.5,290.6 L174.5,290.4 L175.5,290.1 L176.5,289.9 L177.5,289.6 L178.5,289.4 L179.5,289.1 L180.5,288.8 L181.5,288.5 L182.5,288.3 L183.5,287.9 L184.5,287.6 L185.5,287.3 L186.5,287.0 L187.5,286.6 L188.5,286.3 L189.5,285.9 L190.5,285.5 L191.5,285.1 L192.5,284.7 L193.5,284.3 L194.5,283.9 L195.5,283.4 L196.5,283.0 L197.5,282.5 L198.5,282.0 L199.5,281.5 L200.5,281.0 L201.5,280.4 L202.5,279.9 L203.5,279.3 L204.5,278.7 L205.5,278.1 L206.5,277.5 L207.5,276.9 L208.5,276.2 L209.5,275.5 L210.5,274.8 L211.5,274.1 L212.5,273.4 L213.5,272.6 L214.5,271.8 L215.5,271.1 L216.5,270.3 L217.5,269.5 L218.5,268.7 L219.5,267.8 L220.5,267.0 L221.5,266.1 L222.5,265.2 L223.5,264.3 L224.5,263.3 L225.5,262.4 L226.5,261.4 L227.5,260.3 L228.5,259.3 L229.5,258.2 L230.5,257.1 L231.5,256.0 L232.5,254.8 L233.5,253.6 L234.5,252.4 L235.5,251.2 L236.5,249.9 L237.5,248.6 L238.5,247.3 L239.5,245.9 L240.5,244.5 L241.5,243.1 L242.5,241.6 L243.5,240.2 L244.5,238.7 L245.5,237.1 L246.5,235.6 L247.5,234.0 L248.5,232.3 L249.5,230.7 L250.5,229.0 L251.5,227.2 L252.5,225.5 L253.5,223.7 L254.5,221.9 L255.5,220.0 L256.5,218.1 L257.5,216.2 L258.5,214.2 L259.5,212.2 L260.5,210.2 L261.5,208.2 L262.5,206.1 L263.5,203.9 L264.5,201.8 L265.5,199.6 L266.5,197.4 L267.5,195.1 L268.5,192.9 L269.5,190.6 L270.5,188.3 L271.5,185.9 L272.5,183.6 L273.5,181.2 L274.5,178.8 L275.5,176.4 L276.5,174.0 L277.5,171.5 L278.5,169.1 L279.5,166.6 L280.5,164.1 L281.5,161.7 L282.5,159.2 L283.5,156.7 L284.5,154.1 L285.5,151.6 L286.5,149.1 L287.5,146.6 L288.5,144.1 L289.5,141.6 L290.5,139.2 L291.5,136.7 L292.5,134.2 L293.5,131.8 L294.5,129.4 L295.5,127.0 L296.5,124.7 L297.5,122.4 L298.5,120.1 L299.5,117.8 L300.5,115.6 L301.5,113.4 L302.5,111.2 L303.5,109.0 L304.5,106.8 L305.5,104.7 L306.5,102.6 L307.5,100.6 L308.5,98.5 L309.5,96.5 L310.5,94.6 L311.5,92.7 L312.5,90.8 L313.5,89.0 L314.5,87.2 L315.5,85.5 L316.5,83.8 L317.5,82.1 L318.5,80.5 L319.5,79.0 L320.5,77.5 L321.5,76.1 L322.5,74.7 L323.5,73.4 L324.5,72.1 L325.5,70.9 L326.5,69.7 L327.5,68.6 L328.5,67.5 L329.5,66.5 L330.5,65.5 L331.5,64.6 L332.5,63.8 L333.5,62.9 L334.5,62.2 L335.5,61.5 L336.5,60.8 L337.5,60.2 L338.5,59.6 L339.5,59.1 L340.5,58.6 L341.5,58.1 L342.5,57.7 L343.5,57.3 L344.5,57.0 L345.5,56.7 L346.5,56.4 L347.5,56.2 L348.5,56.0 L349.5,55.8 L350.5,55.6 L351.5,55.5 L352.5,55.3 L353.5,55.2 L354.5,55.1 L355.5,55.0 L356.5,55.0 L357.5,54.9 L358.5,54.8 L359.5,54.8 L360.5,54.8 L361.5,54.7 L362.5,54.7 L363.5,54.7 L364.5,54.7 L365.5,54.6 L366.5,54.6 L367.5,54.6 L368.5,54.6 L369.5,54.6" stroke="#2fb1b8" stroke-width="1.9" stroke-dasharray="7.4 1.9"/>
<path d="M47.7,296.8 L48.7,296.8 L49.7,296.8 L50.7,296.8 L51.7,296.8 L52.7,296.8 L53.7,296.8 L54.7,296.8 L55.7,296.8 L56.7,296.8 L57.7,296.8 L58.7,296.7 L59.7,296.7 L60.7,296.7 L61.7,296.7 L62.7,296.7 L63.7,296.7 L64.7,296.7 L65.7,296.7 L66.7,296.7 L67.7,296.7 L68.7,296.7 L69.7,296.7 L70.7,296.7 L71.7,296.7 L72.7,296.7 L73.7,296.7 L74.7,296.7 L75.7,296.7 L76.7,296.7 L77.7,296.7 L78.7,296.7 L79.7,296.6 L80.7,296.6 L81.7,296.6 L82.7,296.6 L83.7,296.6 L84.7,296.6 L85.7,296.6 L86.7,296.6 L87.7,296.6 L88.7,296.6 L89.7,296.5 L90.7,296.5 L91.7,296.5 L92.7,296.5 L93.7,296.5 L94.7,296.5 L95.7,296.5 L96.7,296.5 L97.7,296.4 L98.7,296.4 L99.7,296.4 L100.7,296.4 L101.7,296.4 L102.7,296.3 L103.7,296.3 L104.7,296.3 L105.7,296.3 L106.7,296.3 L107.7,296.2 L108.7,296.2 L109.7,296.2 L110.7,296.2 L111.7,296.1 L112.7,296.1 L113.7,296.1 L114.7,296.1 L115.7,296.0 L116.7,296.0 L117.7,296.0 L118.7,295.9 L119.7,295.9 L120.7,295.9 L121.7,295.8 L122.7,295.8 L123.7,295.7 L124.7,295.7 L125.7,295.7 L126.7,295.6 L127.7,295.6 L128.7,295.5 L129.7,295.5 L130.7,295.4 L131.7,295.4 L132.7,295.3 L133.7,295.3 L134.7,295.2 L135.7,295.1 L136.7,295.1 L137.7,295.0 L138.7,294.9 L139.7,294.9 L140.7,294.8 L141.7,294.7 L142.7,294.6 L143.7,294.6 L144.7,294.5 L145.7,294.4 L146.7,294.3 L147.7,294.2 L148.7,294.1 L149.7,294.0 L150.7,293.9 L151.7,293.8 L152.7,293.7 L153.7,293.6 L154.7,293.4 L155.7,293.3 L156.7,293.2 L157.7,293.0 L158.7,292.9 L159.7,292.8 L160.7,292.6 L161.7,292.5 L162.7,292.3 L163.7,292.1 L164.7,292.0 L165.7,291.8 L166.7,291.6 L167.7,291.4 L168.7,291.2 L169.7,291.0 L170.7,290.8 L171.7,290.6 L172.7,290.4 L173.7,290.1 L174.7,289.9 L175.7,289.6 L176.7,289.4 L177.7,289.1 L178.7,288.8 L179.7,288.5 L180.7,288.3 L181.7,287.9 L182.7,287.6 L183.7,287.3 L184.7,287.0 L185.7,286.6 L186.7,286.3 L187.7,285.9 L188.7,285.5 L189.7,285.1 L190.7,284.7 L191.7,284.3 L192.7,283.9 L193.7,283.4 L194.7,283.0 L195.7,282.5 L196.7,282.0 L197.7,281.5 L198.7,281.0 L199.7,280.4 L200.7,279.9 L201.7,279.3 L202.7,278.7 L203.7,278.1 L204.7,277.5 L205.7,276.9 L206.7,276.2 L207.7,275.5 L208.7,274.8 L209.7,274.1 L210.7,273.4 L211.7,272.6 L212.7,271.8 L213.7,271.1 L214.7,270.3 L215.7,269.5 L216.7,268.7 L217.7,267.8 L218.7,267.0 L219.7,266.1 L220.7,265.2 L221.7,264.3 L222.7,263.3 L223.7,262.4 L224.7,261.4 L225.7,260.3 L226.7,259.3 L227.7,258.2 L228.7,257.1 L229.7,256.0 L230.7,254.8 L231.7,253.6 L232.7,252.4 L233.7,251.2 L234.7,249.9 L235.7,248.6 L236.7,247.3 L237.7,245.9 L238.7,244.5 L239.7,243.1 L240.7,241.6 L241.7,240.2 L242.7,238.7 L243.7,237.1 L244.7,235.6 L245.7,234.0 L246.7,232.3 L247.7,230.7 L248.7,229.0 L249.7,227.2 L250.7,225.5 L251.7,223.7 L252.7,221.9 L253.7,220.0 L254.7,218.1 L255.7,216.2 L256.7,214.2 L257.7,212.2 L258.7,210.2 L259.7,208.2 L260.7,206.1 L261.7,203.9 L262.7,201.8 L263.7,199.6 L264.7,197.4 L265.7,195.1 L266.7,192.9 L267.7,190.6 L268.7,188.3 L269.7,185.9 L270.7,183.6 L271.7,181.2 L272.7,178.8 L273.7,176.4 L274.7,174.0 L275.7,171.5 L276.7,169.1 L277.7,166.6 L278.7,164.1 L279.7,161.7 L280.7,159.2 L281.7,156.7 L282.7,154.1 L283.7,151.6 L284.7,149.1 L285.7,146.6 L286.7,144.1 L287.7,141.6 L288.7,139.2 L289.7,136.7 L290.7,134.2 L291.7,131.8 L292.7,129.4 L293.7,127.0 L294.7,124.7 L295.7,122.4 L296.7,120.1 L297.7,117.8 L298.7,115.6 L299.7,113.4 L300.7,111.2 L301.7,109.0 L302.7,106.8 L303.7,104.7 L304.7,102.6 L305.7,100.6 L306.7,98.5 L307.7,96.5 L308.7,94.6 L309.7,92.7 L310.7,90.8 L311.7,89.0 L312.7,87.2 L313.7,85.5 L314.7,83.8 L315.7,82.1 L316.7,80.5 L317.7,79.0 L318.7,77.5 L319.7,76.1 L320.7,74.7 L321.7,73.4 L322.7,72.1 L323.7,70.9 L324.7,69.7 L325.7,68.6 L326.7,67.5 L327.7,66.5 L328.7,65.5 L329.7,64.6 L330.7,63.8 L331.7,62.9 L332.7,62.2 L333.7,61.5 L334.7,60.8 L335.7,60.2 L336.7,59.6 L337.7,59.1 L338.7,58.6 L339.7,58.1 L340.7,57.7 L341.7,57.3 L342.7,57.0 L343.7,56.7 L344.7,56.4 L345.7,56.2 L346.7,56.0 L347.7,55.8 L348.7,55.6 L349.7,55.5 L350.7,55.3 L351.7,55.2 L352.7,55.1 L353.7,55.0 L354.7,55.0 L355.7,54.9 L356.7,54.8 L357.7,54.8 L358.7,54.8 L359.7,54.7 L360.7,54.7 L361.7,54.7 L362.7,54.7 L363.7,54.6 L364.7,54.6 L365.7,54.6 L366.7,54.6 L367.7,54.6" stroke="#2fb37a" stroke-width="1.6" stroke-dasharray="1.3 2.2"/>
<path d="M49.5,297.1 L50.5,297.1 L51.5,297.1 L52.5,297.1 L53.5,297.1 L54.5,297.1 L55.5,297.1 L56.5,297.1 L57.5,297.1 L58.5,297.1 L59.5,297.1 L60.5,297.0 L61.5,297.0 L62.5,297.0 L63.5,297.0 L64.5,297.0 L65.5,297.0 L66.5,297.0 L67.5,297.0 L68.5,297.0 L69.5,297.0 L70.5,297.0 L71.5,296.9 L72.5,296.9 L73.5,296.9 L74.5,296.9 L75.5,296.9 L76.5,296.9 L77.5,296.9 L78.5,296.8 L79.5,296.8 L80.5,296.8 L81.5,296.8 L82.5,296.8 L83.5,296.8 L84.5,296.8 L85.5,296.7 L86.5,296.7 L87.5,296.7 L88.5,296.7 L89.5,296.7 L90.5,296.6 L91.5,296.6 L92.5,296.6 L93.5,296.6 L94.5,296.5 L95.5,296.5 L96.5,296.5 L97.5,296.5 L98.5,296.4 L99.5,296.4 L100.5,296.4 L101.5,296.3 L102.5,296.3 L103.5,296.3 L104.5,296.2 L105.5,296.2 L106.5,296.2 L107.5,296.1 L108.5,296.1 L109.5,296.1 L110.5,296.0 L111.5,296.0 L112.5,295.9 L113.5,295.9 L114.5,295.8 L115.5,295.8 L116.5,295.7 L117.5,295.7 L118.5,295.6 L119.5,295.6 L120.5,295.5 L121.5,295.5 L122.5,295.4 L123.5,295.3 L124.5,295.3 L125.5,295.2 L126.5,295.1 L127.5,295.1 L128.5,295.0 L129.5,294.9 L130.5,294.8 L131.5,294.8 L132.5,294.7 L133.5,294.6 L134.5,294.5 L135.5,294.4 L136.5,294.3 L137.5,294.2 L138.5,294.1 L139.5,294.0 L140.5,293.9 L141.5,293.8 L142.5,293.7 L143.5,293.6 L144.5,293.4 L145.5,293.3 L146.5,293.2 L147.5,293.0 L148.5,292.9 L149.5,292.8 L150.5,292.6 L151.5,292.5 L152.5,292.3 L153.5,292.1 L154.5,292.0 L155.5,291.8 L156.5,291.6 L157.5,291.4 L158.5,291.2 L159.5,291.0 L160.5,290.8 L161.5,290.6 L162.5,290.4 L163.5,290.2 L164.5,289.9 L165.5,289.7 L166.5,289.4 L167.5,289.2 L168.5,288.9 L169.5,288.6 L170.5,288.4 L171.5,288.1 L172.5,287.8 L173.5,287.5 L174.5,287.1 L175.5,286.8 L176.5,286.5 L177.5,286.1 L178.5,285.8 L179.5,285.4 L180.5,285.0 L181.5,284.6 L182.5,284.2 L183.5,283.8 L184.5,283.3 L185.5,282.9 L186.5,282.4 L187.5,281.9 L188.5,281.4 L189.5,280.9 L190.5,280.4 L191.5,279.9 L192.5,279.3 L193.5,278.7 L194.5,278.1 L195.5,277.5 L196.5,276.9 L197.5,276.3 L198.5,275.6 L199.5,274.9 L200.5,274.2 L201.5,273.5 L202.5,272.7 L203.5,272.0 L204.5,271.2 L205.5,270.3 L206.5,269.5 L207.5,268.6 L208.5,267.7 L209.5,266.8 L210.5,265.9 L211.5,264.9 L212.5,263.9 L213.5,262.9 L214.5,261.8 L215.5,260.7 L216.5,259.6 L217.5,258.5 L218.5,257.3 L219.5,256.1 L220.5,254.9 L221.5,253.6 L222.5,252.3 L223.5,250.9 L224.5,249.6 L225.5,248.2 L226.5,246.7 L227.5,245.2 L228.5,243.7 L229.5,242.1 L230.5,240.5 L231.5,238.9 L232.5,237.2 L233.5,235.5 L234.5,233.8 L235.5,232.0 L236.5,230.1 L237.5,228.2 L238.5,226.3 L239.5,224.4 L240.5,222.4 L241.5,220.3 L242.5,218.2 L243.5,216.1 L244.5,213.9 L245.5,211.7 L246.5,209.5 L247.5,207.2 L248.5,204.8 L249.5,202.5 L250.5,200.1 L251.5,197.6 L252.5,195.1 L253.5,192.6 L254.5,190.0 L255.5,187.4 L256.5,184.8 L257.5,182.1 L258.5,179.4 L259.5,176.7 L260.5,174.0 L261.5,171.2 L262.5,168.4 L263.5,165.6 L264.5,162.7 L265.5,159.8 L266.5,157.0 L267.5,154.1 L268.5,151.2 L269.5,148.3 L270.5,145.4 L271.5,142.4 L272.5,139.5 L273.5,136.6 L274.5,133.7 L275.5,130.8 L276.5,128.0 L277.5,125.1 L278.5,122.3 L279.5,119.5 L280.5,116.7 L281.5,113.9 L282.5,111.2 L283.5,108.6 L284.5,105.9 L285.5,103.4 L286.5,100.8 L287.5,98.4 L288.5,95.9 L289.5,93.6 L290.5,91.3 L291.5,89.1 L292.5,86.9 L293.5,84.8 L294.5,82.8 L295.5,80.9 L296.5,79.0 L297.5,77.2 L298.5,75.5 L299.5,73.9 L300.5,72.3 L301.5,70.9 L302.5,69.5 L303.5,68.2 L304.5,66.9 L305.5,65.8 L306.5,64.7 L307.5,63.7 L308.5,62.8 L309.5,61.9 L310.5,61.1 L311.5,60.4 L312.5,59.7 L313.5,59.1 L314.5,58.6 L315.5,58.1 L316.5,57.6 L317.5,57.2 L318.5,56.9 L319.5,56.5 L320.5,56.3 L321.5,56.0 L322.5,55.8 L323.5,55.6 L324.5,55.5 L325.5,55.3 L326.5,55.2 L327.5,55.1 L328.5,55.0 L329.5,55.0 L330.5,54.9 L331.5,54.9 L332.5,54.8 L333.5,54.8 L334.5,54.8 L335.5,54.8 L336.5,54.7 L337.5,54.7 L338.5,54.7 L339.5,54.7 L340.5,54.7 L341.5,54.7 L342.5,54.7 L343.5,54.7 L344.5,54.7 L345.5,54.7 L346.5,54.7 L347.5,54.7 L348.5,54.7 L349.5,54.7 L350.5,54.7 L351.5,54.7 L352.5,54.7 L353.5,54.7 L354.5,54.7 L355.5,54.7 L356.5,54.7 L357.5,54.7 L358.5,54.7 L359.5,54.7 L360.5,54.7 L361.5,54.7 L362.5,54.7 L363.5,54.7 L364.5,54.7 L365.5,54.7 L366.5,54.7 L367.5,54.7 L368.5,54.7 L369.5,54.7" stroke="#dba71a" stroke-width="1.55" stroke-dasharray="4.5 1.9 1.3 2.4 1.3 2.4"/>
<path d="M49.5,296.7 L50.5,296.7 L51.5,296.7 L52.5,296.7 L53.5,296.7 L54.5,296.7 L55.5,296.7 L56.5,296.7 L57.5,296.8 L58.5,296.8 L59.5,296.8 L60.5,296.8 L61.5,296.8 L62.5,296.8 L63.5,296.8 L64.5,296.8 L65.5,296.8 L66.5,296.8 L67.5,296.8 L68.5,296.8 L69.5,296.8 L70.5,296.8 L71.5,296.8 L72.5,296.8 L73.5,296.8 L74.5,296.8 L75.5,296.7 L76.5,296.7 L77.5,296.7 L78.5,296.7 L79.5,296.7 L80.5,296.7 L81.5,296.7 L82.5,296.7 L83.5,296.7 L84.5,296.7 L85.5,296.7 L86.5,296.7 L87.5,296.7 L88.5,296.7 L89.5,296.7 L90.5,296.7 L91.5,296.7 L92.5,296.7 L93.5,296.7 L94.5,296.6 L95.5,296.6 L96.5,296.6 L97.5,296.6 L98.5,296.6 L99.5,296.6 L100.5,296.6 L101.5,296.6 L102.5,296.6 L103.5,296.5 L104.5,296.5 L105.5,296.5 L106.5,296.5 L107.5,296.5 L108.5,296.5 L109.5,296.4 L110.5,296.4 L111.5,296.4 L112.5,296.4 L113.5,296.4 L114.5,296.3 L115.5,296.3 L116.5,296.3 L117.5,296.3 L118.5,296.2 L119.5,296.2 L120.5,296.2 L121.5,296.2 L122.5,296.1 L123.5,296.1 L124.5,296.1 L125.5,296.0 L126.5,296.0 L127.5,296.0 L128.5,295.9 L129.5,295.9 L130.5,295.8 L131.5,295.8 L132.5,295.7 L133.5,295.7 L134.5,295.7 L135.5,295.6 L136.5,295.5 L137.5,295.5 L138.5,295.4 L139.5,295.4 L140.5,295.3 L141.5,295.2 L142.5,295.2 L143.5,295.1 L144.5,295.0 L145.5,294.9 L146.5,294.9 L147.5,294.8 L148.5,294.7 L149.5,294.6 L150.5,294.5 L151.5,294.3 L152.5,294.2 L153.5,294.0 L154.5,293.9 L155.5,293.7 L156.5,293.5 L157.5,293.3 L158.5,293.2 L159.5,293.0 L160.5,292.8 L161.5,292.6 L162.5,292.4 L163.5,292.2 L164.5,292.0 L165.5,291.8 L166.5,291.6 L167.5,291.3 L168.5,291.1 L169.5,290.9 L170.5,290.6 L171.5,290.4 L172.5,290.1 L173.5,289.8 L174.5,289.6 L175.5,289.3 L176.5,289.0 L177.5,288.7 L178.5,288.4 L179.5,288.1 L180.5,287.7 L181.5,287.4 L182.5,287.1 L183.5,286.7 L184.5,286.3 L185.5,286.0 L186.5,285.6 L187.5,285.2 L188.5,284.8 L189.5,284.3 L190.5,283.9 L191.5,283.4 L192.5,283.0 L193.5,282.5 L194.5,282.0 L195.5,281.4 L196.5,280.9 L197.5,280.4 L198.5,279.8 L199.5,279.2 L200.5,278.6 L201.5,278.0 L202.5,277.4 L203.5,276.7 L204.5,276.0 L205.5,275.4 L206.5,274.6 L207.5,273.9 L208.5,273.2 L209.5,272.4 L210.5,271.6 L211.5,270.8 L212.5,270.0 L213.5,269.1 L214.5,268.3 L215.5,267.4 L216.5,266.5 L217.5,265.6 L218.5,264.7 L219.5,263.8 L220.5,262.8 L221.5,261.9 L222.5,260.9 L223.5,259.9 L224.5,258.8 L225.5,257.8 L226.5,256.7 L227.5,255.6 L228.5,254.4 L229.5,253.3 L230.5,252.1 L231.5,251.0 L232.5,249.8 L233.5,248.6 L234.5,247.3 L235.5,246.0 L236.5,244.8 L237.5,243.4 L238.5,242.1 L239.5,240.7 L240.5,239.4 L241.5,237.9 L242.5,236.5 L243.5,235.1 L244.5,233.6 L245.5,232.1 L246.5,230.6 L247.5,229.1 L248.5,227.5 L249.5,226.0 L250.5,224.4 L251.5,222.8 L252.5,221.1 L253.5,219.5 L254.5,217.8 L255.5,216.1 L256.5,214.5 L257.5,212.8 L258.5,211.0 L259.5,209.3 L260.5,207.6 L261.5,205.8 L262.5,204.1 L263.5,202.3 L264.5,200.6 L265.5,198.8 L266.5,197.0 L267.5,195.2 L268.5,193.5 L269.5,191.7 L270.5,189.9 L271.5,188.1 L272.5,186.3 L273.5,184.5 L274.5,182.6 L275.5,180.8 L276.5,179.1 L277.5,177.3 L278.5,175.5 L279.5,173.7 L280.5,172.0 L281.5,170.2 L282.5,168.5 L283.5,166.8 L284.5,165.1 L285.5,163.5 L286.5,161.9 L287.5,160.4 L288.5,158.8 L289.5,157.4 L290.5,155.9 L291.5,154.4 L292.5,153.0 L293.5,151.6 L294.5,150.2 L295.5,148.8 L296.5,147.5 L297.5,146.1 L298.5,144.7 L299.5,143.4 L300.5,142.0 L301.5,140.7 L302.5,139.3 L303.5,138.0 L304.5,136.6 L305.5,135.3 L306.5,133.9 L307.5,132.5 L308.5,131.1 L309.5,129.8 L310.5,128.4 L311.5,127.1 L312.5,125.7 L313.5,124.4 L314.5,123.1 L315.5,121.8 L316.5,120.5 L317.5,119.3 L318.5,118.0 L319.5,116.8 L320.5,115.6 L321.5,114.3 L322.5,113.2 L323.5,112.0 L324.5,110.8 L325.5,109.7 L326.5,108.5 L327.5,107.4 L328.5,106.3 L329.5,105.2 L330.5,104.2 L331.5,103.1 L332.5,102.1 L333.5,101.0 L334.5,100.0 L335.5,99.0 L336.5,98.1 L337.5,97.1 L338.5,96.2 L339.5,95.2 L340.5,94.3 L341.5,93.4 L342.5,92.5 L343.5,91.6 L344.5,90.8 L345.5,89.9 L346.5,89.1 L347.5,88.2 L348.5,87.4 L349.5,86.6 L350.5,85.8 L351.5,85.0 L352.5,84.2 L353.5,83.4 L354.5,82.7 L355.5,81.9 L356.5,81.2 L357.5,80.4 L358.5,79.7 L359.5,79.0 L360.5,78.2 L361.5,77.5 L362.5,76.8 L363.5,76.1 L364.5,75.4 L365.5,74.8 L366.5,74.1 L367.5,73.5 L368.5,72.8 L369.5,72.2" stroke="#d03a1c" stroke-width="1.75" stroke-dasharray="4.6 1.8 1.5 2.1"/>
<path d="M49.5,297.1 L50.5,297.1 L51.5,297.1 L52.5,297.1 L53.5,297.1 L54.5,297.1 L55.5,297.1 L56.5,297.1 L57.5,297.1 L58.5,297.1 L59.5,297.1 L60.5,297.1 L61.5,297.1 L62.5,297.1 L63.5,297.1 L64.5,297.1 L65.5,297.1 L66.5,297.1 L67.5,297.1 L68.5,297.1 L69.5,297.1 L70.5,297.1 L71.5,297.1 L72.5,297.1 L73.5,297.1 L74.5,297.1 L75.5,297.1 L76.5,297.1 L77.5,297.1 L78.5,297.1 L79.5,297.1 L80.5,297.1 L81.5,297.1 L82.5,297.1 L83.5,297.1 L84.5,297.1 L85.5,297.1 L86.5,297.1 L87.5,297.0 L88.5,297.0 L89.5,297.0 L90.5,297.0 L91.5,297.0 L92.5,297.0 L93.5,297.0 L94.5,297.0 L95.5,297.0 L96.5,297.0 L97.5,297.0 L98.5,297.0 L99.5,297.0 L100.5,297.0 L101.5,297.0 L102.5,296.9 L103.5,296.9 L104.5,296.9 L105.5,296.9 L106.5,296.9 L107.5,296.9 L108.5,296.9 L109.5,296.8 L110.5,296.8 L111.5,296.8 L112.5,296.8 L113.5,296.8 L114.5,296.7 L115.5,296.7 L116.5,296.7 L117.5,296.7 L118.5,296.6 L119.5,296.6 L120.5,296.6 L121.5,296.5 L122.5,296.5 L123.5,296.5 L124.5,296.4 L125.5,296.4 L126.5,296.3 L127.5,296.3 L128.5,296.3 L129.5,296.2 L130.5,296.2 L131.5,296.1 L132.5,296.0 L133.5,296.0 L134.5,295.9 L135.5,295.9 L136.5,295.8 L137.5,295.7 L138.5,295.7 L139.5,295.6 L140.5,295.5 L141.5,295.4 L142.5,295.3 L143.5,295.2 L144.5,295.1 L145.5,295.0 L146.5,294.9 L147.5,294.8 L148.5,294.7 L149.5,294.6 L150.5,294.5 L151.5,294.4 L152.5,294.2 L153.5,294.1 L154.5,294.0 L155.5,293.8 L156.5,293.7 L157.5,293.5 L158.5,293.4 L159.5,293.2 L160.5,293.0 L161.5,292.9 L162.5,292.7 L163.5,292.5 L164.5,292.3 L165.5,292.1 L166.5,291.9 L167.5,291.7 L168.5,291.4 L169.5,291.2 L170.5,291.0 L171.5,290.7 L172.5,290.5 L173.5,290.2 L174.5,289.9 L175.5,289.6 L176.5,289.3 L177.5,289.0 L178.5,288.7 L179.5,288.4 L180.5,288.1 L181.5,287.8 L182.5,287.4 L183.5,287.1 L184.5,286.7 L185.5,286.3 L186.5,285.9 L187.5,285.5 L188.5,285.1 L189.5,284.7 L190.5,284.2 L191.5,283.8 L192.5,283.3 L193.5,282.9 L194.5,282.4 L195.5,281.9 L196.5,281.3 L197.5,280.8 L198.5,280.3 L199.5,279.7 L200.5,279.1 L201.5,278.5 L202.5,277.9 L203.5,277.3 L204.5,276.7 L205.5,276.0 L206.5,275.3 L207.5,274.6 L208.5,273.9 L209.5,273.2 L210.5,272.4 L211.5,271.7 L212.5,270.9 L213.5,270.1 L214.5,269.2 L215.5,268.4 L216.5,267.5 L217.5,266.6 L218.5,265.7 L219.5,264.8 L220.5,263.8 L221.5,262.8 L222.5,261.8 L223.5,260.8 L224.5,259.7 L225.5,258.6 L226.5,257.6 L227.5,256.5 L228.5,255.4 L229.5,254.2 L230.5,253.1 L231.5,251.9 L232.5,250.7 L233.5,249.4 L234.5,248.2 L235.5,246.9 L236.5,245.5 L237.5,244.1 L238.5,242.7 L239.5,241.3 L240.5,239.8 L241.5,238.3 L242.5,236.8 L243.5,235.2 L244.5,233.5 L245.5,231.9 L246.5,230.2 L247.5,228.4 L248.5,226.6 L249.5,224.8 L250.5,223.0 L251.5,221.1 L252.5,219.1 L253.5,217.2 L254.5,215.2 L255.5,213.1 L256.5,211.0 L257.5,208.9 L258.5,206.7 L259.5,204.6 L260.5,202.3 L261.5,200.1 L262.5,197.7 L263.5,195.4 L264.5,193.0 L265.5,190.6 L266.5,188.2 L267.5,185.7 L268.5,183.2 L269.5,180.6 L270.5,178.0 L271.5,175.4 L272.5,172.8 L273.5,170.1 L274.5,167.5 L275.5,164.8 L276.5,162.0 L277.5,159.3 L278.5,156.5 L279.5,153.7 L280.5,150.9 L281.5,148.1 L282.5,145.3 L283.5,142.5 L284.5,139.8 L285.5,137.0 L286.5,134.2 L287.5,131.4 L288.5,128.7 L289.5,125.9 L290.5,123.2 L291.5,120.5 L292.5,117.8 L293.5,115.2 L294.5,112.5 L295.5,109.9 L296.5,107.3 L297.5,104.8 L298.5,102.3 L299.5,99.8 L300.5,97.4 L301.5,95.0 L302.5,92.7 L303.5,90.4 L304.5,88.2 L305.5,86.0 L306.5,83.9 L307.5,81.8 L308.5,79.8 L309.5,77.9 L310.5,76.0 L311.5,74.2 L312.5,72.5 L313.5,70.9 L314.5,69.3 L315.5,67.9 L316.5,66.5 L317.5,65.3 L318.5,64.1 L319.5,63.0 L320.5,62.0 L321.5,61.1 L322.5,60.3 L323.5,59.5 L324.5,58.9 L325.5,58.3 L326.5,57.7 L327.5,57.3 L328.5,56.8 L329.5,56.5 L330.5,56.1 L331.5,55.9 L332.5,55.6 L333.5,55.4 L334.5,55.3 L335.5,55.1 L336.5,55.0 L337.5,54.9 L338.5,54.9 L339.5,54.8 L340.5,54.8 L341.5,54.7 L342.5,54.7 L343.5,54.7 L344.5,54.6 L345.5,54.6 L346.5,54.6 L347.5,54.6 L348.5,54.6 L349.5,54.6 L350.5,54.6 L351.5,54.6 L352.5,54.6 L353.5,54.6 L354.5,54.6 L355.5,54.6 L356.5,54.6 L357.5,54.6 L358.5,54.6 L359.5,54.6 L360.5,54.6 L361.5,54.6 L362.5,54.6 L363.5,54.6 L364.5,54.6 L365.5,54.6 L366.5,54.6 L367.5,54.6 L368.5,54.6 L369.5,54.6" stroke="#9a33d6" stroke-width="1.55" stroke-dasharray="7.3 2.1 4.2 2.1"/>
</g>
<path d="M71.1,45.7 H103.3" fill="none" stroke="#3d69b0" stroke-width="1.4"/>
<path d="M71.1,58.2 H103.3" fill="none" stroke="#2fb1b8" stroke-width="1.9" stroke-dasharray="7.4 1.9"/>
<path d="M71.1,70.4 H103.3" fill="none" stroke="#2fb37a" stroke-width="1.6" stroke-dasharray="1.3 2.2"/>
<path d="M71.1,82.8 H103.3" fill="none" stroke="#dba71a" stroke-width="1.55" stroke-dasharray="4.5 1.9 1.3 2.4 1.3 2.4"/>
<path d="M71.1,94.9 H103.3" fill="none" stroke="#d03a1c" stroke-width="1.75" stroke-dasharray="4.6 1.8 1.5 2.1"/>
<path d="M71.1,107.3 H103.3" fill="none" stroke="#9a33d6" stroke-width="1.55" stroke-dasharray="7.3 2.1 4.2 2.1"/>
<rect x="49.5" y="6.4" width="320.0" height="291.0" stroke="#1c1c1c" fill="none" stroke-width="1"/>
</svg>
<div class="t" style="right:345.2px;top:292.9px;font-size:8.7px;line-height:10px">0</div>
<div class="t" style="right:345.2px;top:244.4px;font-size:8.7px;line-height:10px">0.2</div>
<div class="t" style="right:345.2px;top:195.9px;font-size:8.7px;line-height:10px">0.4</div>
<div class="t" style="right:345.2px;top:147.3px;font-size:8.7px;line-height:10px">0.6</div>
<div class="t" style="right:345.2px;top:98.8px;font-size:8.7px;line-height:10px">0.8</div>
<div class="t" style="right:345.2px;top:50.3px;font-size:8.7px;line-height:10px">1</div>
<div class="t" style="right:345.2px;top:1.8px;font-size:8.7px;line-height:10px">1.2</div>
<div class="t" style="left:50.6px;top:304.1px;font-size:8.3px;line-height:10px;letter-spacing:0.3px;transform:scaleY(1.08);transform-origin:0 7.88px">1<span class="s" style="font-size:6.6px;top:0.3px">&times;</span>10<span class="s" style="font-size:6.7px;top:-3.7px">-1</span></div>
<div class="t" style="left:198.4px;top:301.4px;font-size:8.4px;line-height:10px;transform:scaleY(1.08);transform-origin:0 7.91px">1.0</div>
<div class="t" style="left:333.5px;top:304.1px;font-size:8.3px;line-height:10px;letter-spacing:0.3px;transform:scaleY(1.08);transform-origin:0 7.88px">1<span class="s" style="font-size:6.6px;top:0.3px">&times;</span>10<span class="s" style="font-size:6.7px;top:-3.7px">1</span></div>
<div class="t" style="left:109px;top:40.5px;font-size:8.4px;line-height:10px;letter-spacing:0.14px;transform:scaleY(1.07);transform-origin:0 4.9px">rcBK (set MV)</div>
<div class="t" style="left:109px;top:53.0px;font-size:8.4px;line-height:10px;letter-spacing:0.14px;transform:scaleY(1.07);transform-origin:0 4.9px">rcBK (set h')</div>
<div class="t" style="left:109px;top:65.2px;font-size:8.4px;line-height:10px;letter-spacing:0.14px;transform:scaleY(1.07);transform-origin:0 4.9px">rcBK (set h)</div>
<div class="t" style="left:109px;top:77.6px;font-size:8.4px;line-height:10px;letter-spacing:0.14px;transform:scaleY(1.07);transform-origin:0 4.9px">GBW</div>
<div class="t" style="left:109px;top:89.7px;font-size:8.4px;line-height:10px;letter-spacing:0.14px;transform:scaleY(1.07);transform-origin:0 4.9px">b-CGC (b=0)</div>
<div class="t" style="left:109.7px;top:102.1px;font-size:8.4px;line-height:10px;letter-spacing:0.14px;transform:scaleY(1.07);transform-origin:0 4.9px">IP-Sat (b=0)</div>
<div class="t" style="left:80px;top:246.85px;font-size:11.7px;line-height:14px;transform:scaleY(1.07);transform-origin:0 11.05px">x = 10<span class="s" style="font-size:9.8px;top:-5.4px">-6</span></div>
<div class="t" style="left:248.6px;top:248.65px;font-size:11.7px;line-height:14px;transform:scaleY(1.07);transform-origin:0 11.05px">x = 5 &times; 10<span class="s" style="font-size:9.8px;top:-5.4px">-3</span></div>
<div class="t" style="left:201.3px;top:17.7px;font-size:15.8px;line-height:18px;font-family:'Liberation Serif',serif;-webkit-text-stroke:0">N(r,x)</div>
<div class="t" style="left:213.2px;top:316.4px;font-size:12.3px;line-height:18px;font-family:'Liberation Serif',serif;-webkit-text-stroke:0"><span style="font-size:15.5px;margin-right:1.5px">r</span> (GeV<span class="s" style="font-size:8px;top:-5px">-1</span>)</div>
</body></html>
